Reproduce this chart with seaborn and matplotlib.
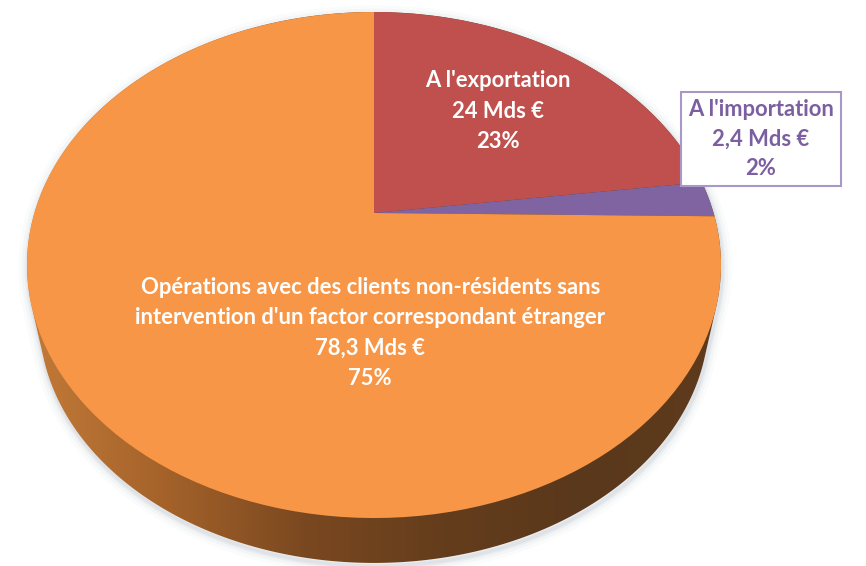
import numpy as np
import matplotlib
matplotlib.use("Agg")
import matplotlib.pyplot as plt
import matplotlib.transforms as mtransforms
from matplotlib.path import Path
from matplotlib.patches import PathPatch
from matplotlib.colors import LinearSegmentedColormap
import seaborn as sns

# factoring international: breakdown in Mds €
names = ["A l'exportation", "A l'importation",
         "Opérations avec des clients non-résidents sans\nintervention d'un factor correspondant étranger"]
amounts = [24, 2.4, 78.3]
amount_text = ["24", "2,4", "78,3"]
colors = ["#C0504D", "#8064A2", "#F79646"]

sns.set_theme(style="white")
plt.rcParams['font.family'] = ['Lato', 'DejaVu Sans']


class Perspective(mtransforms.Transform):
    # tilt the unit disk: the back shrinks, the front grows
    input_dims = 2
    output_dims = 2

    def __init__(self, k):
        super().__init__()
        self.k = k

    def transform_non_affine(self, values):
        values = np.asarray(values, dtype=float)
        w = 1 + self.k * values[:, 1]
        return values / w[:, None]


def hull(points):
    # monotone chain convex hull
    pts = sorted(map(tuple, points))

    def cross(o, a, b):
        return (a[0] - o[0]) * (b[1] - o[1]) - (a[1] - o[1]) * (b[0] - o[0])

    lo, up = [], []
    for p in pts:
        while len(lo) >= 2 and cross(lo[-2], lo[-1], p) <= 0:
            lo.pop()
        lo.append(p)
    for p in reversed(pts):
        while len(up) >= 2 and cross(up[-2], up[-1], p) <= 0:
            up.pop()
        up.append(p)
    return np.array(lo[:-1] + up[:-1])


fig = plt.figure(figsize=(8.66, 5.66), dpi=100)
ax = fig.add_axes([0, 0, 1, 1])

persp = Perspective(0.2055) + mtransforms.Affine2D().scale(339.6, -242.3).translate(374, 213)
to_px = persp + ax.transData

# top rim and bottom rim (bottom face is a bit farther from the eye)
t = np.linspace(0, 2 * np.pi, 721)
rim = persp.transform(np.column_stack([np.cos(t), np.sin(t)]))
s, yc = 0.965, 1803
bottom = np.column_stack([374 + s * (rim[:, 0] - 374), yc + s * (rim[:, 1] - yc)])
body = hull(np.vstack([rim, bottom]))
body_path = Path(np.vstack([body, body[:1]]), closed=True)

# soft shadow around the body
for lw, a in [(14, 0.03), (9, 0.05), (5, 0.07), (2.5, 0.1)]:
    ax.add_patch(PathPatch(Path(np.vstack([body, body[:1]]) + [1, 3], closed=True),
                           fill=False, edgecolor="#7f8a99", lw=lw, alpha=a, zorder=0))
ax.add_patch(PathPatch(body_path, facecolor="white", edgecolor="none", zorder=0.5))

# side wall with a horizontal shading
side_cmap = LinearSegmentedColormap.from_list(
    "side", ["#c27a38", "#a4622a", "#7a4820", "#643d1c", "#5a381b", "#5e3b1c"])
x0, x1 = rim[:, 0].min(), rim[:, 0].max()
grad = np.linspace(0, 1, 256)[None, :]
im = ax.imshow(grad, cmap=side_cmap, aspect="auto",
               extent=(x0, x1, 570, 0), zorder=1)
clip = PathPatch(body_path, transform=ax.transData, facecolor="none", edgecolor="none")
ax.add_patch(clip)
im.set_clip_path(clip)

# top face
wedges, _ = ax.pie(amounts, colors=colors, startangle=90, counterclock=False,
                   wedgeprops=dict(linewidth=0))
for w in wedges:
    w.set_transform(to_px)
    w.set_zorder(2)

total = sum(amounts)
pcts = [round(100 * a / total) for a in amounts]
txt = [f"{n}\n{a} Mds €\n{p}%" for n, a, p in zip(names, amount_text, pcts)]

fs, ls = 15.8, 1.56
ax.text(0.4, 0.46, txt[0], transform=to_px, ha="center", va="center",
        color="white", fontsize=fs, fontweight="bold", linespacing=ls, zorder=3)
ax.text(1.215, 0.325, txt[1], transform=to_px, ha="center", va="center",
        color="#7b5fa0", fontsize=fs, fontweight="bold", linespacing=1.5, zorder=3,
        bbox=dict(boxstyle="square,pad=0.32", facecolor="white", edgecolor="#a898c8", lw=1.5))
ax.text(-0.01, -0.45, txt[2], transform=to_px, ha="center", va="center",
        color="white", fontsize=fs, fontweight="bold", linespacing=ls, zorder=3)

ax.set_xlim(0, 866)
ax.set_ylim(566, 0)
ax.set_aspect("auto")
ax.axis("off")

fig.savefig("out.png", dpi=100, facecolor="white")
